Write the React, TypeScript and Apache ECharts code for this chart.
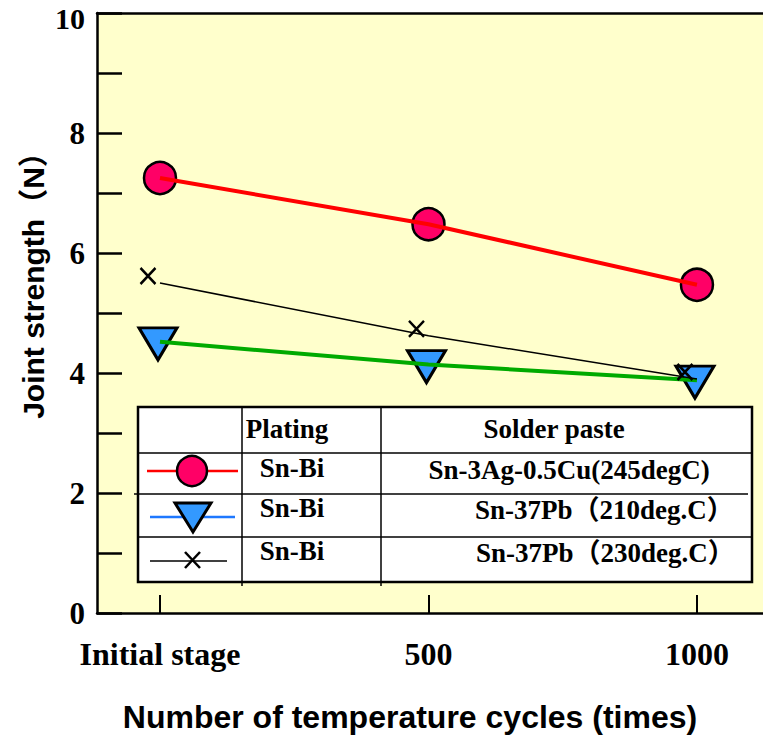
import React, { useEffect, useRef } from "react";
import * as echarts from "echarts";

const categories = ["Initial stage", "500", "1000"];
const snAgCu245 = [7.25, 6.48, 5.47];
const snPb210 = [4.52, 4.14, 3.88];
const snPb230 = [5.5, 4.62, 3.9];
const yTicks = [0, 2, 4, 6, 8, 10];
const tableHeader = ["Plating", "Solder paste"];
const tablePlating = ["Sn-Bi", "Sn-Bi", "Sn-Bi"];
const tablePaste = ["Sn-3Ag-0.5Cu(245degC)", "Sn-37Pb（210deg.C）", "Sn-37Pb（230deg.C）"];

const SERIF = '"Liberation Serif", "Noto Sans CJK JP", serif';
const SANS = '"Liberation Sans", "Noto Sans CJK JP", sans-serif';

const toXY = (vals: number[]) => vals.map((v, i) => [i, v]);

export default function App() {
  const ref = useRef<HTMLDivElement>(null);
  useEffect(() => {
    if (!ref.current) return;
    const chart = echarts.init(ref.current, null, { renderer: "svg" });
    const tFont = `bold 27px ${SERIF}`;
    const line = (x1: number, y1: number, x2: number, y2: number, w = 1.5, c = "#000") => ({
      type: "line",
      shape: { x1, y1, x2, y2 },
      style: { stroke: c, lineWidth: w },
    });
    const txt = (text: string, x: number, y: number, align = "center", font = tFont) => ({
      type: "text",
      x,
      y,
      style: { text, x: 0, y: 0, fill: "#000", font, align, verticalAlign: "middle" },
    });
    const rowY = [470, 510, 553];
    const xMin = -0.2346;
    const xMax = 2.246;
    const yMax = yTicks[yTicks.length - 1];
    const option: any = {
      animation: false,
      grid: {
        left: 97,
        top: 13,
        right: 0,
        bottom: 122,
        show: true,
        backgroundColor: "#FFFFCC",
        borderWidth: 0,
      },
      xAxis: [
        {
          type: "value",
          min: xMin,
          max: xMax,
          splitLine: { show: false },
          axisLine: { onZero: false, lineStyle: { color: "#000", width: 2.5 } },
          axisTick: {
            customValues: [0, 1, 2],
            inside: true,
            length: 18,
            lineStyle: { color: "#000", width: 2 },
          },
          axisLabel: {
            customValues: [0, 1, 2],
            formatter: (v: number) => categories[Math.round(v)] ?? "",
            fontSize: 32,
            fontWeight: "bold",
            fontFamily: SERIF,
            color: "#000",
            margin: 25,
          },
        },
        {
          type: "value",
          position: "top",
          min: xMin,
          max: xMax,
          splitLine: { show: false },
          axisLine: { onZero: false, lineStyle: { color: "#000", width: 2.5 } },
          axisTick: { show: false },
          axisLabel: { show: false },
        },
      ],
      yAxis: {
        type: "value",
        min: 0,
        max: yMax,
        interval: 1,
        splitLine: { show: false },
        axisLine: { show: true, onZero: false, lineStyle: { color: "#000", width: 2.5 } },
        axisTick: { inside: true, length: 25, lineStyle: { color: "#000", width: 2.5 } },
        axisLabel: {
          formatter: (v: number) =>
            v === yMax ? `{top|${v}}` : yTicks.includes(v) ? String(v) : "",
          fontSize: 31,
          fontWeight: "bold",
          fontFamily: SERIF,
          color: "#000",
          margin: 12,
          rich: {
            top: {
              fontSize: 30,
              fontWeight: "bold",
              fontFamily: SERIF,
              color: "#000",
              padding: [10, 0, 0, 0],
            },
          },
        },
      },
      series: [
        {
          type: "scatter",
          data: toXY(snAgCu245),
          symbol: "circle",
          symbolSize: 32,
          itemStyle: { color: "#FF0066", borderColor: "#000", borderWidth: 2.5, opacity: 1 },
          z: 2,
        },
        {
          type: "line",
          data: toXY(snAgCu245),
          symbol: "none",
          lineStyle: { color: "#FF0000", width: 4 },
          z: 3,
        },
        {
          type: "scatter",
          data: toXY(snPb210),
          symbol: "triangle",
          symbolRotate: 180,
          symbolSize: [38, 32],
          symbolOffset: [-2, 2],
          itemStyle: { color: "#3399FF", borderColor: "#000", borderWidth: 3, opacity: 1 },
          z: 2,
        },
        {
          type: "line",
          data: toXY(snPb210),
          symbol: "none",
          lineStyle: { color: "#00AA00", width: 4 },
          z: 3,
        },
        {
          type: "line",
          data: toXY(snPb230),
          symbol: "none",
          lineStyle: { color: "#000", width: 1.5 },
          z: 3,
        },
        {
          type: "scatter",
          data: toXY(snPb230),
          symbol: "path://M0,0L10,10M10,0L0,10",
          symbolSize: [15, 16],
          symbolOffset: [-12, -7],
          itemStyle: { color: "none", borderColor: "#000", borderWidth: 2.5, opacity: 1 },
          z: 4,
        },
      ],
      graphic: [
        {
          type: "group",
          z: 100,
          children: [
            {
              type: "rect",
              shape: { x: 138, y: 407, width: 614, height: 175 },
              style: { fill: "#fff", stroke: "#000", lineWidth: 2.5 },
            },
            line(138, 453, 752, 453),
            line(134, 494, 748, 494),
            line(138, 537, 752, 537),
            line(242, 407, 242, 586),
            line(381, 407, 381, 586),
            // legend samples
            line(147, 471, 238, 471, 2.5, "#FF0000"),
            {
              type: "circle",
              shape: { cx: 192, cy: 471, r: 15 },
              style: { fill: "#FF0066", stroke: "#000", lineWidth: 2.5 },
            },
            line(150, 517, 235, 517, 2.5, "#1E78FF"),
            {
              type: "polygon",
              shape: { points: [[175, 503], [211, 503], [193, 532]] },
              style: { fill: "#3399FF", stroke: "#000", lineWidth: 3 },
            },
            line(150, 561, 227, 561, 1.5, "#000"),
            line(185, 552, 200, 568, 2.5, "#000"),
            line(200, 552, 185, 568, 2.5, "#000"),
            txt(tableHeader[0], 287, 429),
            txt(tableHeader[1], 554, 429),
            ...tablePlating.map((t, i) => txt(t, 292, rowY[i] - 2)),
            txt(tablePaste[0], 569, rowY[0]),
            txt(tablePaste[1], 475, rowY[1], "left"),
            txt(tablePaste[2], 476, rowY[2], "left"),
          ],
        },
        {
          type: "text",
          x: 33,
          y: 278,
          rotation: Math.PI / 2,
          style: {
            text: "Joint strength（N）",
            x: 0,
            y: 0,
            fill: "#000",
            font: `bold 30px ${SANS}`,
            align: "center",
            verticalAlign: "middle",
          },
        },
        {
          type: "text",
          x: 410,
          y: 717,
          style: {
            text: "Number of temperature cycles (times)",
            x: 0,
            y: 0,
            fill: "#000",
            font: `bold 32px ${SANS}`,
            align: "center",
            verticalAlign: "middle",
          },
        },
      ],
    };
    chart.setOption(option);
    return () => chart.dispose();
  }, []);
  return (
    <div
      ref={ref}
      style={{ position: "fixed", left: 0, top: 0, width: 763, height: 735, background: "#fff" }}
    />
  );
}
